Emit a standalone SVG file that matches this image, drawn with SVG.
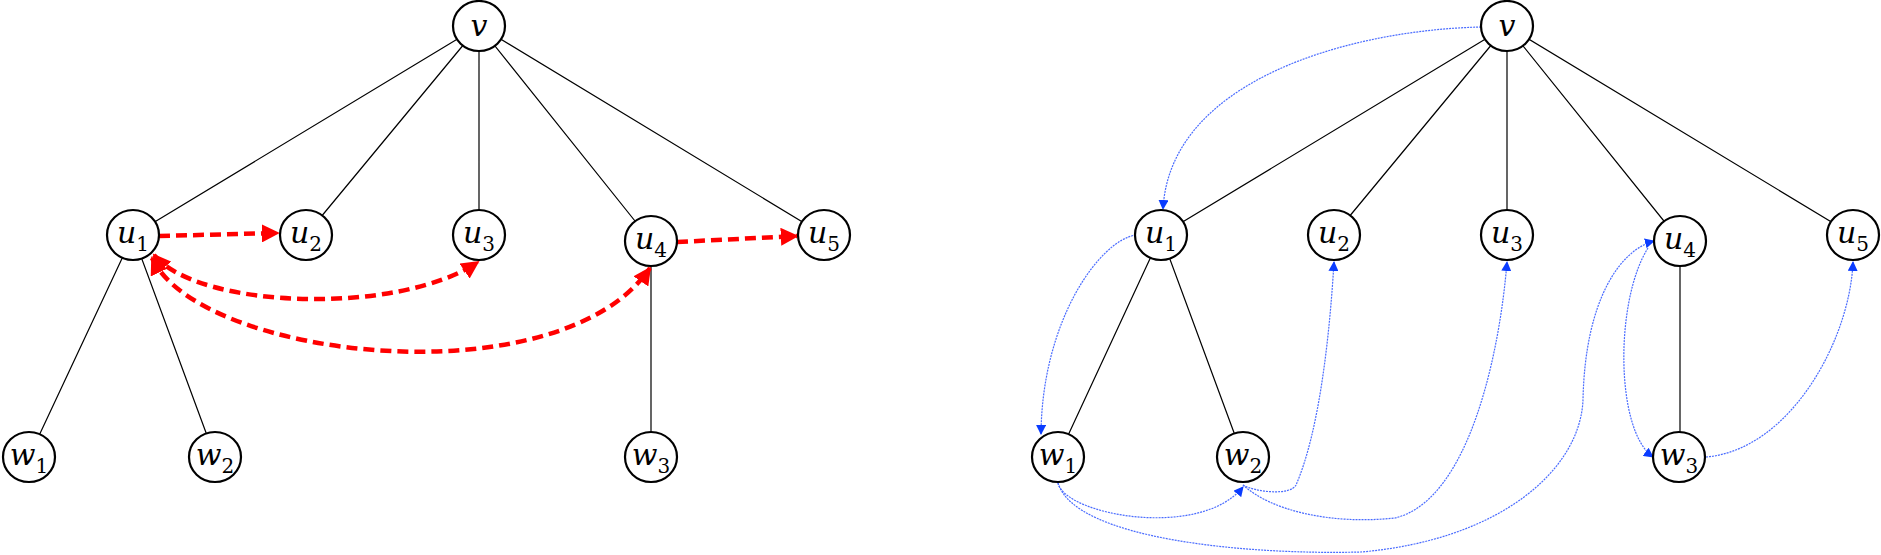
<svg xmlns="http://www.w3.org/2000/svg" width="1881" height="555" viewBox="0 0 1881 555">
<defs>
<style>
.n ellipse{fill:#fff;stroke:#000;stroke-width:2.2}
.n text{font-family:"DejaVu Serif","Liberation Serif",serif;font-style:italic;font-size:30px;text-anchor:middle}
.n tspan.s{font-size:20px;font-style:normal}
.e{stroke:#000;stroke-width:1.2;fill:none}
.r{stroke:#f00;stroke-width:4.5;stroke-dasharray:11 6;fill:none}
.b{stroke:#4a6cff;stroke-width:1.2;stroke-dasharray:2 1;fill:none}
</style>
<marker id="ar" viewBox="0 0 10 10" refX="9" refY="5" markerWidth="4" markerHeight="4" orient="auto-start-reverse"><path d="M0,0L10,5L0,10z" fill="#f00"/></marker>
<marker id="ab" viewBox="0 0 10 10" refX="9" refY="5" markerWidth="10" markerHeight="10" markerUnits="userSpaceOnUse" orient="auto"><path d="M0,0L10,5L0,10z" fill="#0a3cff"/></marker>
</defs>
<g id="connectors">
<path class="e" d="M479,26L133,235M479,26L306,235M479,26V235M479,26L651,241M479,26L824,235M133,235L29,457M133,235L215,457M651,241V457"/>
<path class="e" d="M1507,26L1161,235M1507,26L1334,235M1507,26V235M1507,26L1680,241M1507,26L1853,235M1161,235L1058,457M1161,235L1243,457M1680,241V457"/>
<path class="r" marker-end="url(#ar)" d="M159,236L278,233"/>
<path class="r" marker-end="url(#ar)" d="M677,242L797,236"/>
<path class="r" marker-start="url(#ar)" marker-end="url(#ar)" d="M154,255C200,310 400,315 478,262"/>
<path class="r" marker-start="url(#ar)" marker-end="url(#ar)" d="M152,258C200,360 560,400 650,268"/>
<path class="b" marker-end="url(#ab)" d="M1481,27C1350,30 1170,80 1163,209"/>
<path class="b" marker-end="url(#ab)" d="M1136,235C1100,240 1042,320 1041,434"/>
<path class="b" marker-end="url(#ab)" d="M1243,485C1255,492 1290,496 1296,485C1320,430 1330,330 1334,262"/>
<path class="b" marker-end="url(#ab)" d="M1058,483C1065,515 1200,540 1243,487"/>
<path class="b" marker-end="url(#ab)" d="M1243,485C1270,510 1330,525 1395,518C1470,500 1500,350 1507,262"/>
<path class="b" marker-end="url(#ab)" d="M1058,483C1075,540 1250,555 1361,552C1500,540 1580,470 1583,400C1585,300 1620,250 1654,241"/>
<path class="b" marker-end="url(#ab)" d="M1648,248C1615,300 1615,430 1653,457"/>
<path class="b" marker-end="url(#ab)" d="M1706,457C1790,450 1850,340 1853,262"/>
</g>
<g id="L_v" class="n"><ellipse cx="479" cy="26" rx="26" ry="25"/><text x="479" y="36">v</text></g>
<g id="L_u1" class="n"><ellipse cx="133" cy="235" rx="26" ry="25"/><text x="133" y="243">u<tspan class="s" dy="8">1</tspan></text></g>
<g id="L_u2" class="n"><ellipse cx="306" cy="235" rx="26" ry="25"/><text x="306" y="243">u<tspan class="s" dy="8">2</tspan></text></g>
<g id="L_u3" class="n"><ellipse cx="479" cy="235" rx="26" ry="25"/><text x="479" y="243">u<tspan class="s" dy="8">3</tspan></text></g>
<g id="L_u4" class="n"><ellipse cx="651" cy="241" rx="26" ry="25"/><text x="651" y="249">u<tspan class="s" dy="8">4</tspan></text></g>
<g id="L_u5" class="n"><ellipse cx="824" cy="235" rx="26" ry="25"/><text x="824" y="243">u<tspan class="s" dy="8">5</tspan></text></g>
<g id="L_w1" class="n"><ellipse cx="29" cy="457" rx="26" ry="25"/><text x="29" y="465">w<tspan class="s" dy="8">1</tspan></text></g>
<g id="L_w2" class="n"><ellipse cx="215" cy="457" rx="26" ry="25"/><text x="215" y="465">w<tspan class="s" dy="8">2</tspan></text></g>
<g id="L_w3" class="n"><ellipse cx="651" cy="457" rx="26" ry="25"/><text x="651" y="465">w<tspan class="s" dy="8">3</tspan></text></g>
<g id="R_v" class="n"><ellipse cx="1507" cy="26" rx="26" ry="25"/><text x="1507" y="36">v</text></g>
<g id="R_u1" class="n"><ellipse cx="1161" cy="235" rx="26" ry="25"/><text x="1161" y="243">u<tspan class="s" dy="8">1</tspan></text></g>
<g id="R_u2" class="n"><ellipse cx="1334" cy="235" rx="26" ry="25"/><text x="1334" y="243">u<tspan class="s" dy="8">2</tspan></text></g>
<g id="R_u3" class="n"><ellipse cx="1507" cy="235" rx="26" ry="25"/><text x="1507" y="243">u<tspan class="s" dy="8">3</tspan></text></g>
<g id="R_u4" class="n"><ellipse cx="1680" cy="241" rx="26" ry="25"/><text x="1680" y="249">u<tspan class="s" dy="8">4</tspan></text></g>
<g id="R_u5" class="n"><ellipse cx="1853" cy="235" rx="26" ry="25"/><text x="1853" y="243">u<tspan class="s" dy="8">5</tspan></text></g>
<g id="R_w1" class="n"><ellipse cx="1058" cy="457" rx="26" ry="25"/><text x="1058" y="465">w<tspan class="s" dy="8">1</tspan></text></g>
<g id="R_w2" class="n"><ellipse cx="1243" cy="457" rx="26" ry="25"/><text x="1243" y="465">w<tspan class="s" dy="8">2</tspan></text></g>
<g id="R_w3" class="n"><ellipse cx="1679" cy="457" rx="26" ry="25"/><text x="1679" y="465">w<tspan class="s" dy="8">3</tspan></text></g>
</svg>
